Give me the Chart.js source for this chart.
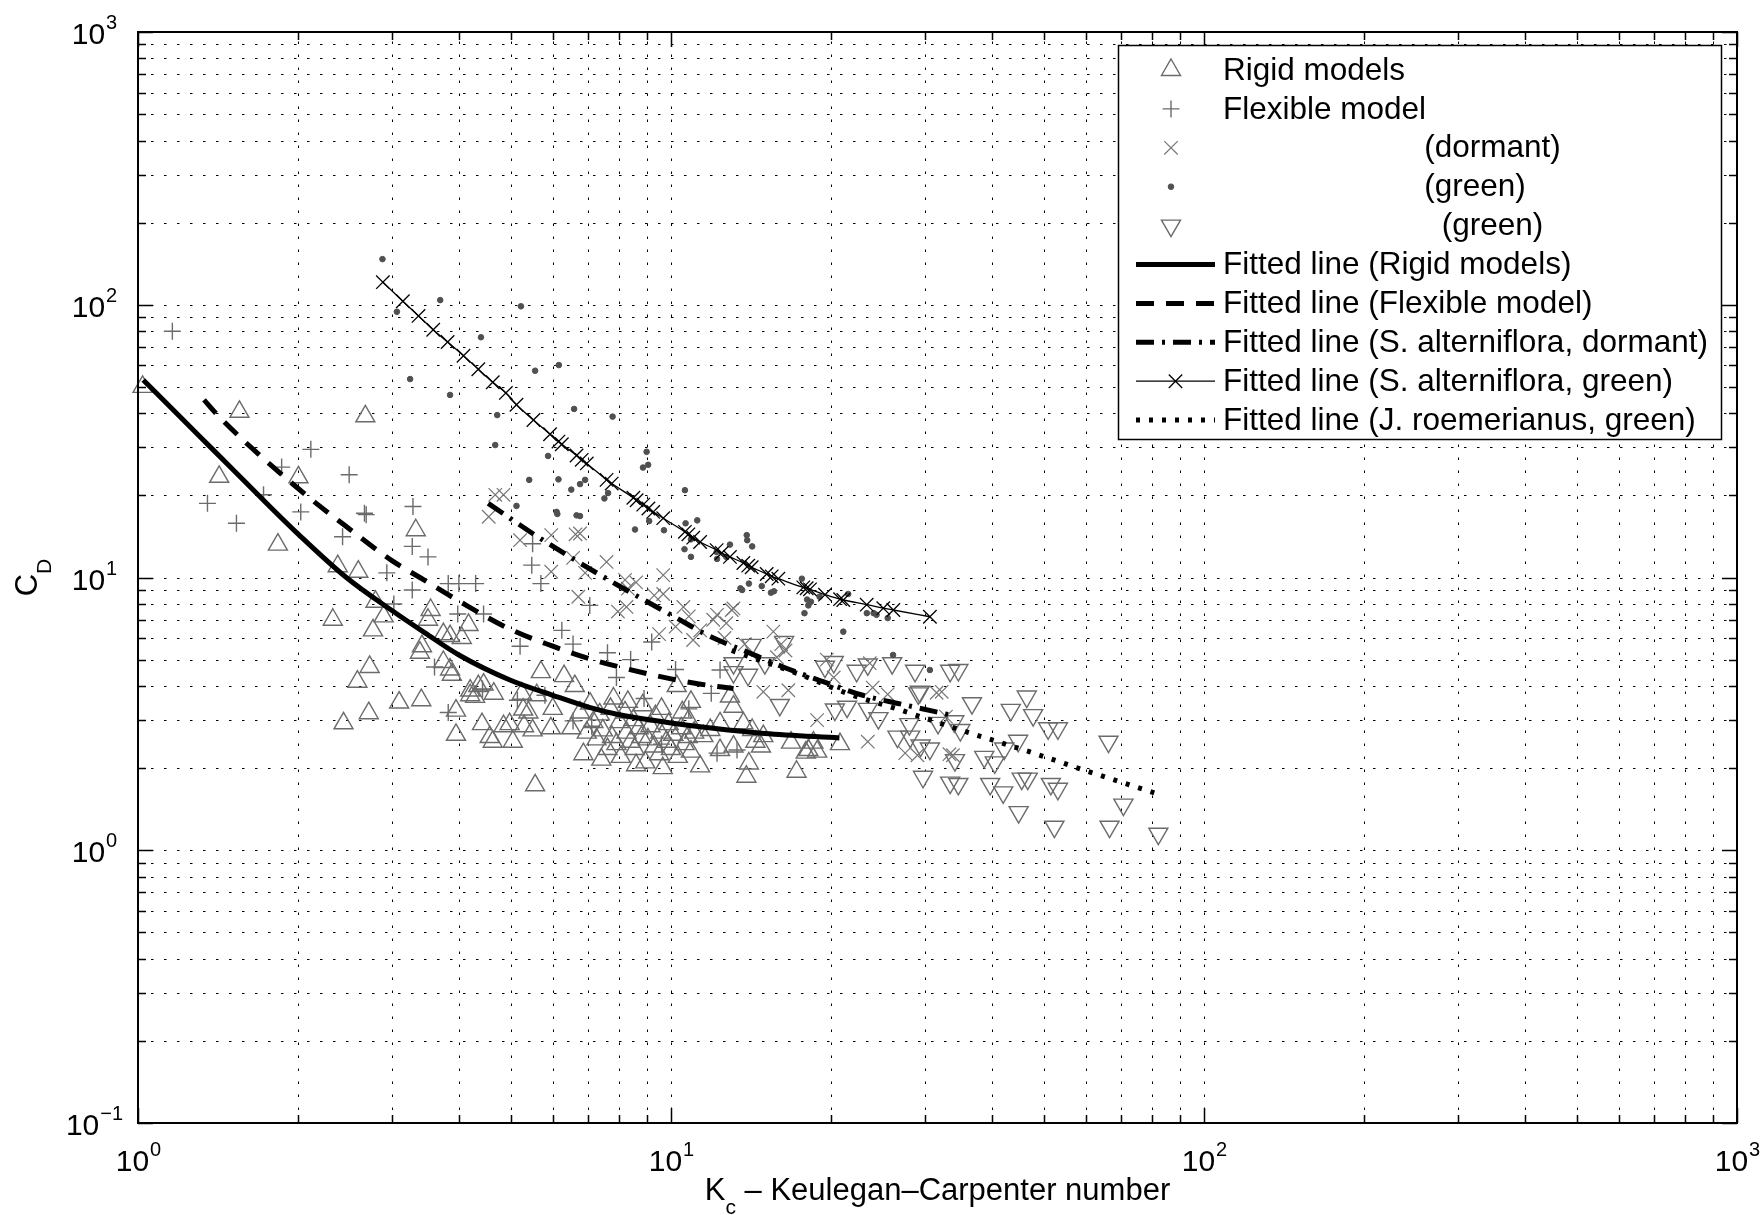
<!DOCTYPE html>
<html>
<head>
<meta charset="utf-8">
<title>C_D vs Keulegan-Carpenter number</title>
<script src="https://cdn.jsdelivr.net/npm/chart.js@4.4.1/dist/chart.umd.min.js"></script>
<style>
  html, body { margin: 0; padding: 0; background: #fff; }
  #wrap { width: 1764px; height: 1215px; }
</style>
</head>
<body>
<div id="wrap"><canvas id="chart" width="1764" height="1215"></canvas></div>
<script>
// decades for the log axes and the minor steps between them
const xDecades = [1, 10, 100, 1000];
const yDecades = [0.1, 1, 10, 100, 1000];
const minorSteps = [2, 3, 4, 5, 6, 7, 8, 9];

// measured points, [Kc, CD]
const rigidPts = [
  [1.02,50],[1.55,40.5],[2.67,39],[1.42,23.4],[2.0,23.3],[1.83,13.2],[3.32,14.9],[2.37,11.0],
  [2.59,10.5],[2.79,8.15],[2.89,7.2],[2.32,7.0],[2.76,6.4],[3.54,7.6],[3.5,7.0],[4.17,6.7],
  [3.74,6.2],[3.85,6.1],[4.05,6.0],[3.41,5.6],[3.38,5.3],[2.72,4.7],[2.58,4.15],[3.74,4.9],
  [3.85,4.6],[3.88,4.4],[4.2,3.85],[4.35,4.0],[4.29,3.65],[4.65,3.75],[3.09,3.48],[3.4,3.55],
  [2.71,3.18],[2.43,2.92],[3.95,3.25],[3.95,2.65],[4.42,2.9],[4.57,2.6],[4.63,2.5],[5.05,2.5],
  [4.98,2.9],[5.28,3.28],[5.25,3.75],[5.6,3.7],[5.4,3.2],[5.5,2.75],[5.3,2.85],[5.56,1.73],
  [6.0,3.3],[5.95,2.8],[6.3,4.35],[6.6,4.0],[6.75,3.2],[6.5,2.8],[6.85,2.25],[6.95,2.7],
  [4.45,4.05],[4.2,3.7],[5.7,4.5],[4.85,2.85],
  [7.05,3.45],[7.15,2.95],[7.25,2.55],[7.35,3.15],[7.45,2.75],[7.6,2.35],[7.7,3.3],[7.75,2.6],
  [7.9,2.45],[8.0,2.95],[8.05,2.2],[8.2,3.2],[8.25,2.7],[8.4,2.5],[8.5,3.0],[8.55,2.35],
  [8.7,2.8],[8.8,2.6],[8.85,3.4],[8.95,2.1],[9.05,2.55],[9.15,2.85],[9.3,2.4],[9.35,3.1],
  [9.5,2.25],[9.55,2.7],[9.65,2.0],[9.8,2.5],[9.9,2.9],[10.0,2.35],[10.1,2.65],[10.25,4.0],
  [10.3,2.2],[10.45,2.8],[10.5,3.2],[10.6,2.45],[10.75,2.6],[10.8,3.0],[10.9,2.3],[11.05,2.7],
  [7.8,3.6],[8.3,3.5],[9.6,3.3],[10.9,3.5],[7.4,2.15],[8.6,2.05],
  [12.9,3.66],[13.1,3.36],[12.36,2.92],[11.85,2.76],[11.5,2.62],[13.67,2.92],[14.2,2.76],[14.4,2.5],
  [14.0,2.08],[13.85,1.86],[14.75,2.4],[17.2,1.94],[16.8,2.48],[18.1,2.33],[18.5,2.48],[18.8,2.3],
  [20.75,2.45],[17.9,2.28],[14.9,2.62],[11.34,2.03],[12.36,2.33],[13.1,2.4]
];
const flexPts = [
  [1.16,80],[1.35,18.7],[1.53,15.8],[1.72,20.1],[1.86,25.4],[2.11,29.5],[2.02,17.4],[2.49,23.8],
  [2.66,17.2],[2.68,17.0],[2.42,14.1],[3.28,18.2],[3.27,13.0],[3.5,11.9],[2.93,10.4],[3.27,9.0],
  [3.02,8.0],[3.82,9.5],[4.0,9.5],[4.3,9.5],[3.98,7.35],[4.45,7.35],[5.48,11.1],[5.5,13.3],
  [5.7,9.5],[6.24,6.4],[6.55,5.7],[5.21,5.6],[3.6,4.7],[3.82,3.2],[4.43,3.9],[5.15,3.55],
  [5.8,3.7],[6.55,2.98],[7.04,7.9],[7.1,2.85],[12.36,4.58],[11.9,3.76],[12.2,2.27],[13.3,2.33],
  [7.6,5.3],[8.4,5.0],[9.2,5.8],[10.2,4.6],[8.9,3.6],[9.6,2.45],[10.8,3.3],[7.9,4.3]
];
const dormantPts = [
  [4.68,20.1],[4.85,20.1],[4.55,16.7],[5.21,13.7],[5.96,14.3],[5.96,10.5],[6.62,14.4],[6.9,10.4],
  [6.7,8.5],[6.55,11.8],[6.75,14.5],[7.57,11.4],[8.2,9.8],[8.6,9.6],[9.67,10.2],[8.3,9.1],
  [9.3,8.6],[9.67,8.7],[7.95,7.5],[8.25,7.8],[10.55,7.8],[13.1,7.7],[12.2,7.3],[13.0,7.6],
  [12.0,7.0],[12.7,6.8],[11.34,6.4],[15.56,6.33],[16.1,5.7],[16.4,5.4],[13.75,5.7],[12.6,6.0],
  [15.8,5.1],[14.9,3.81],[16.6,3.86],[19.6,5.0],[20.2,4.3],[23.6,4.85],[23.9,3.95],[18.8,3.0],
  [23.4,2.5],[27.5,2.27],[31.5,3.78],[33.3,2.25],[25.5,3.73],[32.2,3.81],[32.8,3.09],[29.0,2.23],
  [33.8,2.23],[10.2,6.6],[11.0,5.9],[9.5,6.2],[10.8,7.2]
];
const greenDotPts = [
  [2.875,147],[3.69,104],[5.23,98.7],[4.4,76],[3.06,94.3],[3.24,53.4],[3.85,46.7],[4.72,39.4],
  [4.68,30.6],[5.88,27.9],[5.42,22.8],[6.15,22.9],[6.58,41.5],[6.5,21],[6.75,22],[6.9,22.8],
  [5.13,18.3],[6.1,17.4],[6.65,16.9],[5.56,57.3],[6.16,60.1],[7.77,38.9],[6.12,17.1],[6.75,16.8],
  [7.5,19.5],[7.62,20.4],[9.0,28.9],[9.06,25.9],[8.86,25.3],[8.56,15.0],[9.1,16.1],[9.7,14.9],
  [10.62,20.9],[10.65,15.8],[11.2,16.2],[10.9,13.8],[10.6,12.7],[10.9,11.9],[12.18,12.4],[12.9,13.2],
  [12.2,11.7],[12.7,11.9],[13.87,14.3],[13.9,13.7],[14.2,13.0],[13.6,9.0],[14.0,9.5],[14.8,9.3],
  [15.4,8.8],[17.6,9.9],[18.0,8.3],[18.1,7.9],[17.8,7.4],[19.0,8.5],[23.3,7.4],[24.3,7.3],
  [13.5,9.13],[15.6,8.9],[18.3,8.15],[21.5,8.7],[21.05,6.33],[24.0,7.4],[25.5,7.1],[26.1,5.2],
  [30.6,4.58]
];
const roemPts = [
  [14.17,5.66],[16.3,5.8],[13.1,4.85],[13.1,4.5],[13.95,4.4],[15.0,4.85],[16.0,3.41],[19.45,4.71],
  [20.2,4.9],[21.4,3.36],[22.3,4.55],[23.4,4.8],[26.0,4.85],[28.7,4.55],[33.4,4.55],[23.4,3.3],
  [24.5,3.05],[26.6,2.61],[28.0,2.9],[29.3,3.81],[29.4,2.42],[30.6,2.36],[31.7,2.93],[34.0,2.97],
  [34.1,2.14],[29.7,1.86],[33.4,1.77],[20.3,3.28],[34.6,4.58],[29.1,3.76],[36.7,3.46],[46.5,3.66],
  [43.4,3.27],[47.8,3.13],[51.0,2.8],[53.2,2.8],[66.2,2.5],[28.1,2.61],[34.9,2.76],[38.7,2.2],
  [40.5,2.1],[42.2,2.36],[44.8,2.52],[34.6,1.75],[39.7,1.75],[42.0,1.63],[44.9,1.38],[45.5,1.83],
  [46.7,1.83],[51.6,1.75],[53.2,1.68],[70.6,1.47],[52.4,1.22],[66.5,1.22],[82.1,1.15]
];

// fitted curves
const rigidFit = [
  [1.023,53],[1.14,42.9],[1.31,32.7],[1.5,25.1],[1.72,19.2],[2.0,14.4],[2.46,10],[3.0,7.55],
  [3.46,6.25],[4.0,5.2],[5.0,4.2],[6.0,3.7],[7.0,3.35],[8.0,3.14],[10,2.93],[12,2.8],[15,2.68],
  [20.7,2.58]
];
const flexFit = [
  [1.33,44.8],[1.4,40],[1.6,31],[2.07,20],[2.5,15.0],[3.0,11.5],[3.38,10],[4.0,8.2],[5.0,6.45],
  [6.0,5.6],[7.0,5.05],[8.0,4.7],[10,4.25],[11.3,4.07],[13.1,3.92]
];
const dormantFit = [
  [4.54,18.7],[5.56,14.3],[6.51,11.8],[7.57,9.9],[8.87,8.3],[10.25,7.1],[11.7,6.15],[14.1,5.27],
  [16.5,4.64],[19.3,4.15],[22.9,3.7],[26.9,3.44],[33.5,3.13]
];
const greenFit = [
  [2.88,121],[3.14,103],[3.36,91],[3.58,81],[3.81,73],[4.08,65],[4.35,58],[4.63,52],[4.9,47.5],
  [5.13,43],[5.52,37.8],[5.93,33.5],[6.15,31.5],[6.24,30.8],[6.65,28],[6.8,27],[6.95,26.2],
  [7.57,22.8],[7.74,22.1],[8.5,19.6],[8.62,19.2],[8.87,18.5],[9.07,17.9],[9.26,17.4],[9.67,16.5],
  [10.62,14.7],[10.78,14.4],[11.01,14.0],[11.34,13.5],[12.18,12.6],[12.45,12.3],[12.9,11.9],
  [13.67,11.3],[13.96,11.05],[14.17,10.9],[15.12,10.3],[15.45,10.1],[15.9,9.9],[17.71,9.2],
  [17.97,9.13],[18.23,9.05],[19.45,8.65],[20.76,8.33],[21.05,8.27],[23.29,7.95],[25.02,7.72],
  [26.13,7.6],[30.6,7.18]
];
const roemFit = [
  [13,5.4],[17.5,4.4],[21.4,3.76],[26.9,3.27],[33.4,2.84],[47.9,2.27],[59.4,1.97],[80.9,1.62]
];

const FONT = '"Liberation Sans", Arial, Helvetica, sans-serif';
const MARK = '#6b6b6b';

function pts(arr) {
  return arr.map(([x, y]) => ({ x, y }));
}

function buildTicks(decades) {
  const out = [];
  decades.forEach((d, i) => {
    out.push(d);
    if (i < decades.length - 1) minorSteps.forEach(m => out.push(d * m));
  });
  return out;
}
const xTicks = buildTicks(xDecades);
const yTicks = buildTicks(yDecades);

function expText(d) {
  const e = Math.round(Math.log10(d));
  return e < 0 ? '\u2212' + (-e) : String(e);
}

function drawMarker(ctx, ds, x, y) {
  ctx.save();
  ctx.setLineDash([]);
  ctx.strokeStyle = ds.pointBorderColor;
  ctx.fillStyle = ds.pointBackgroundColor;
  ctx.lineWidth = ds.pointBorderWidth;
  Chart.helpers.drawPoint(ctx, {
    pointStyle: ds.pointStyle,
    rotation: ds.pointRotation || 0,
    radius: ds.pointRadius,
    borderWidth: ds.pointBorderWidth
  }, x, y);
  ctx.restore();
}

// grid, box, inward ticks, tex-like labels and the legend, matlab style
const matlabAxes = {
  id: 'matlabAxes',
  beforeDatasetsDraw(chart) {
    const { ctx, chartArea: a, scales: { x, y } } = chart;
    ctx.save();
    ctx.strokeStyle = '#000';
    ctx.lineWidth = 1;
    ctx.setLineDash([2.5, 10.5]);
    xTicks.forEach(v => {
      const px = Math.round(x.getPixelForValue(v)) + 0.5;
      ctx.beginPath();
      ctx.moveTo(px, a.bottom);
      ctx.lineTo(px, a.top);
      ctx.stroke();
    });
    yTicks.forEach(v => {
      const py = Math.round(y.getPixelForValue(v)) + 0.5;
      ctx.beginPath();
      ctx.moveTo(a.left, py);
      ctx.lineTo(a.right, py);
      ctx.stroke();
    });
    ctx.restore();
  },
  afterDatasetsDraw(chart) {
    const { ctx, chartArea: a, scales: { x, y } } = chart;
    ctx.save();
    ctx.setLineDash([]);
    ctx.strokeStyle = '#000';
    ctx.lineWidth = 1.5;

    // tick marks on all four sides
    xTicks.forEach(v => {
      const px = Math.round(x.getPixelForValue(v)) + 0.5;
      const len = xDecades.includes(v) ? 15 : 8;
      ctx.beginPath();
      ctx.moveTo(px, a.bottom); ctx.lineTo(px, a.bottom - len);
      ctx.moveTo(px, a.top); ctx.lineTo(px, a.top + len);
      ctx.stroke();
    });
    yTicks.forEach(v => {
      const py = Math.round(y.getPixelForValue(v)) + 0.5;
      const len = yDecades.includes(v) ? 15 : 8;
      ctx.beginPath();
      ctx.moveTo(a.left, py); ctx.lineTo(a.left + len, py);
      ctx.moveTo(a.right, py); ctx.lineTo(a.right - len, py);
      ctx.stroke();
    });

    ctx.lineWidth = 2;
    ctx.strokeRect(a.left, a.top, a.right - a.left, a.bottom - a.top);

    // tick labels 10^n
    ctx.fillStyle = '#000';
    ctx.textBaseline = 'alphabetic';
    ctx.textAlign = 'left';
    const big = '30px ' + FONT, small = '20px ' + FONT;
    const label = (d, cx, base) => {
      ctx.font = big;
      const w1 = ctx.measureText('10').width;
      ctx.font = small;
      const e = expText(d);
      const w2 = ctx.measureText(e).width;
      const x0 = cx - (w1 + w2) / 2;
      ctx.font = big;
      ctx.fillText('10', x0, base);
      ctx.font = small;
      ctx.fillText(e, x0 + w1 + 1, base - 15);
    };
    xDecades.forEach(d => label(d, x.getPixelForValue(d), a.bottom + 48));
    yDecades.forEach(d => label(d, a.left - 44, y.getPixelForValue(d) + 12));

    // x title
    const titleBig = '31px ' + FONT, titleSmall = '21px ' + FONT;
    const rest = ' \u2013 Keulegan\u2013Carpenter number';
    ctx.font = titleBig;
    const wK = ctx.measureText('K').width;
    const wRest = ctx.measureText(rest).width;
    ctx.font = titleSmall;
    const wc = ctx.measureText('c').width;
    const tx = (a.left + a.right) / 2 - (wK + wc + wRest) / 2;
    const tb = a.bottom + 77;
    ctx.font = titleBig;
    ctx.fillText('K', tx, tb);
    ctx.font = titleSmall;
    ctx.fillText('c', tx + wK, tb + 14);
    ctx.font = titleBig;
    ctx.fillText(rest, tx + wK + wc, tb);

    // y title, rotated
    ctx.save();
    ctx.translate(a.left - 101, (a.top + a.bottom) / 2);
    ctx.rotate(-Math.PI / 2);
    ctx.font = titleBig;
    const wC = ctx.measureText('C').width;
    ctx.font = titleSmall;
    const wD = ctx.measureText('D').width;
    const y0 = -(wC + wD) / 2;
    ctx.font = titleBig;
    ctx.fillText('C', y0, 0);
    ctx.font = titleSmall;
    ctx.fillText('D', y0 + wC, 14);
    ctx.restore();

    // legend box
    const box = { left: 1118, top: 45, right: 1721, bottom: 439 };
    ctx.fillStyle = '#fff';
    ctx.fillRect(box.left, box.top, box.right - box.left, box.bottom - box.top);
    ctx.strokeStyle = '#000';
    ctx.lineWidth = 1.5;
    ctx.strokeRect(box.left + 0.5, box.top + 0.5, box.right - box.left, box.bottom - box.top);

    ctx.font = '31.5px ' + FONT;
    ctx.textBaseline = 'middle';
    chart.data.datasets.forEach((ds, i) => {
      const ry = 70 + i * 38.9;
      if (ds.showLine) {
        ctx.save();
        ctx.strokeStyle = ds.borderColor;
        ctx.lineWidth = ds.borderWidth;
        ctx.lineCap = 'butt';
        ctx.setLineDash(ds.borderDash || []);
        ctx.beginPath();
        ctx.moveTo(1136, ry);
        ctx.lineTo(1215, ry);
        ctx.stroke();
        ctx.restore();
        if (ds.pointRadius > 0) drawMarker(ctx, ds, 1175.5, ry);
      } else {
        drawMarker(ctx, ds, 1171, ry);
      }
      ctx.fillStyle = '#000';
      ctx.fillText(ds.label, 1223, ry + 1);
    });
    ctx.restore();
  }
};

function scatterSet(label, data, style, radius, extra) {
  return Object.assign({
    label,
    data: pts(data),
    showLine: false,
    pointStyle: style,
    pointRadius: radius,
    pointBorderColor: MARK,
    pointBackgroundColor: 'rgba(0,0,0,0)',
    pointBorderWidth: 1.4,
    clip: false,
    order: 2
  }, extra || {});
}

function lineSet(label, data, width, dash, extra) {
  return Object.assign({
    label,
    data: pts(data),
    showLine: true,
    borderColor: '#000',
    borderWidth: width,
    borderDash: dash,
    borderCapStyle: 'butt',
    pointRadius: 0,
    cubicInterpolationMode: 'monotone',
    fill: false,
    clip: false,
    order: 0
  }, extra || {});
}

const pad = n => ' '.repeat(n);

new Chart(document.getElementById('chart'), {
  type: 'scatter',
  data: {
    datasets: [
      scatterSet('Rigid models', rigidPts, 'triangle', 11),
      scatterSet('Flexible model', flexPts, 'cross', 8.5),
      scatterSet(pad(23) + '(dormant)', dormantPts, 'crossRot', 9.5, { pointBorderColor: '#777', pointBorderWidth: 1.2 }),
      scatterSet(pad(23) + '(green)', greenDotPts, 'circle', 2.8, { pointBorderColor: '#505050', pointBackgroundColor: '#505050', pointBorderWidth: 1 }),
      scatterSet(pad(25) + '(green)', roemPts, 'triangle', 11, { pointRotation: 180 }),
      lineSet('Fitted line (Rigid models)', rigidFit, 5, []),
      lineSet('Fitted line (Flexible model)', flexFit, 5, [18, 12]),
      lineSet('Fitted line (S. alterniflora, dormant)', dormantFit, 5, [18, 8, 3, 8]),
      lineSet('Fitted line (S. alterniflora, green)', greenFit, 1.3, [], {
        pointRadius: 9.5, pointStyle: 'crossRot', pointBorderColor: '#000',
        pointBackgroundColor: 'rgba(0,0,0,0)', pointBorderWidth: 1.3
      }),
      lineSet('Fitted line (J. roemerianus, green)', roemFit, 5, [4, 9])
    ]
  },
  options: {
    responsive: false,
    animation: false,
    devicePixelRatio: 1,
    events: [],
    layout: { padding: { left: 138, right: 27, top: 32, bottom: 92 } },
    plugins: { legend: { display: false }, tooltip: { enabled: false }, title: { display: false } },
    scales: {
      x: { type: 'logarithmic', min: 1, max: 1000, display: false },
      y: { type: 'logarithmic', min: 0.1, max: 1000, display: false }
    }
  },
  plugins: [matlabAxes]
});
</script>
</body>
</html>
